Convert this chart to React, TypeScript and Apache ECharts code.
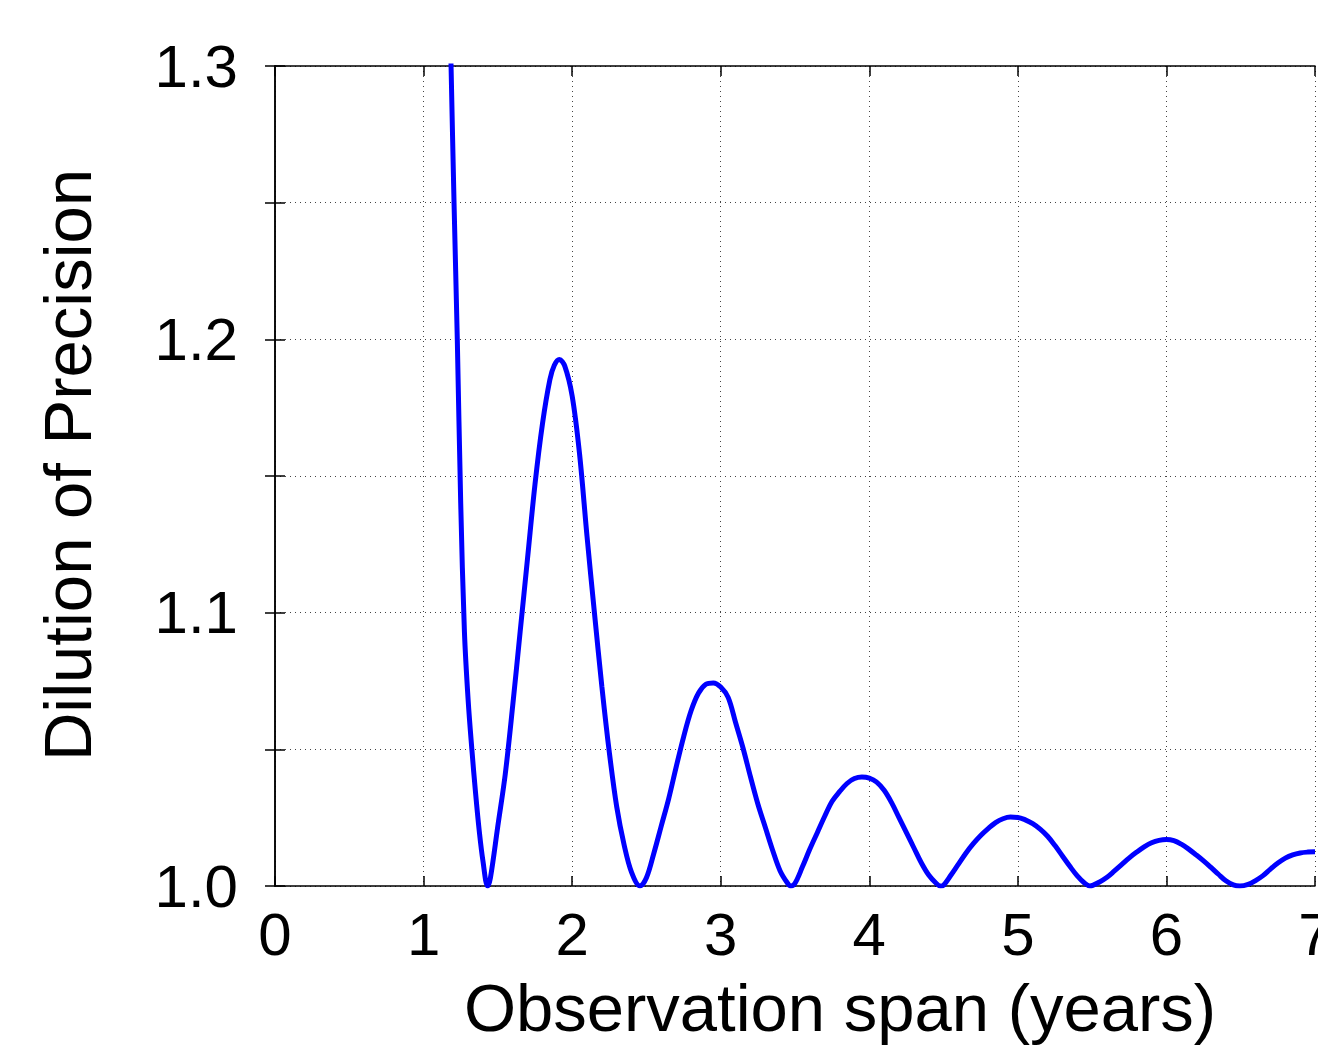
import React, { useEffect, useRef } from "react";
import * as echarts from "echarts";

// Observation span (years)
const spanYears: number[] = [
  1.17, 1.185, 1.205, 1.227, 1.25, 1.275, 1.3, 1.325, 1.35, 1.375, 1.4, 1.431,
  1.45, 1.5, 1.55, 1.6, 1.65, 1.7, 1.75, 1.8, 1.85, 1.88, 1.914, 1.95, 2.0, 2.05, 2.1, 2.15, 2.2, 2.25, 2.3, 2.35, 2.4, 2.457,
  2.5, 2.55, 2.6, 2.65, 2.7, 2.75, 2.8, 2.85, 2.9, 2.95, 3.0, 3.05, 3.1, 3.15, 3.2, 3.25, 3.3, 3.35, 3.4, 3.45, 3.471,
  3.5, 3.55, 3.6, 3.65, 3.7, 3.75, 3.8, 3.85, 3.9, 3.95, 4.0, 4.05, 4.1, 4.15, 4.2, 4.25, 4.3, 4.35, 4.4, 4.45, 4.478,
  4.5, 4.55, 4.6, 4.65, 4.7, 4.75, 4.8, 4.85, 4.9, 4.95, 5.0, 5.05, 5.1, 5.15, 5.2, 5.25, 5.3, 5.35, 5.4, 5.45, 5.485,
  5.55, 5.6, 5.65, 5.7, 5.75, 5.8, 5.85, 5.9, 5.95, 6.0, 6.05, 6.1, 6.15, 6.2, 6.25, 6.3, 6.35, 6.4, 6.45, 6.495,
  6.55, 6.6, 6.65, 6.7, 6.75, 6.8, 6.85, 6.9, 6.95, 7.0,
];

// Dilution of Precision
const dop: number[] = [
  1.34, 1.3, 1.25, 1.2, 1.14, 1.093, 1.068, 1.05, 1.034, 1.02, 1.009, 1.0,
  1.003, 1.022, 1.041, 1.066, 1.093, 1.12, 1.147, 1.169, 1.1852, 1.1905, 1.1926, 1.1903, 1.1793, 1.158, 1.128, 1.1, 1.073, 1.049, 1.029, 1.015, 1.005, 1.0,
  1.003, 1.012, 1.022, 1.032, 1.0435, 1.0545, 1.064, 1.0705, 1.0738, 1.0743, 1.0728, 1.069, 1.0598, 1.0505, 1.04, 1.03, 1.0215, 1.013, 1.0055, 1.001, 1.0,
  1.001, 1.007, 1.0135, 1.0195, 1.0255, 1.031, 1.0345, 1.0375, 1.0393, 1.0399, 1.0395, 1.038, 1.035, 1.0305, 1.025, 1.0195, 1.014, 1.0085, 1.004, 1.001, 1.0,
  1.0003, 1.004, 1.008, 1.012, 1.0155, 1.0185, 1.021, 1.0232, 1.0246, 1.0252, 1.0251, 1.0242, 1.0228, 1.0208, 1.0182, 1.0148, 1.011, 1.0072, 1.0037, 1.001, 1.0,
  1.0015, 1.0032, 1.0055, 1.0079, 1.0103, 1.0124, 1.0143, 1.0158, 1.0167, 1.017, 1.0166, 1.0153, 1.0135, 1.0114, 1.0092, 1.0068, 1.0043, 1.0019, 1.0004, 1.0,
  1.0006, 1.002, 1.0038, 1.0062, 1.0084, 1.0102, 1.0114, 1.0121, 1.0124, 1.0125,
];

const xTicks = [0, 1, 2, 3, 4, 5, 6, 7];
const yLabelled = [1.0, 1.1, 1.2, 1.3];

const FONT = "Liberation Sans, Arial, sans-serif";

export default function App() {
  const ref = useRef<HTMLDivElement>(null);
  useEffect(() => {
    document.body.style.margin = "0";
    const chart = echarts.init(ref.current!, null, { renderer: "svg" });
    const isLabelled = (v: number) =>
      yLabelled.some((l) => Math.abs(l - v) < 1e-6);
    const frameLine = { show: true, lineStyle: { color: "#000", width: 1.5 } };
    const frameTick = { show: true, inside: true, length: 10, lineStyle: { color: "#000", width: 1.5 } };
    const dotted = { show: true, lineStyle: { type: [1, 4] as any, color: "#444", width: 1 } };
    chart.setOption({
      animation: false,
      backgroundColor: "#fff",
      grid: { left: 275, top: 66, right: 3, bottom: 166, containLabel: false, outerBoundsMode: "none" },
      xAxis: [
        {
          type: "value",
          min: xTicks[0],
          max: xTicks[xTicks.length - 1],
          interval: 1,
          position: "bottom",
          name: "Observation span (years)",
          nameLocation: "middle",
          nameGap: 88,
          nameTextStyle: { fontFamily: FONT, fontSize: 67, color: "#000", padding: [0, 0, 0, 90] },
          axisLine: frameLine,
          axisTick: frameTick,
          axisLabel: { fontFamily: FONT, fontSize: 60, color: "#000", margin: 18, showMaxLabel: true, hideOverlap: false },
          splitLine: dotted,
        },
        {
          type: "value",
          min: 0,
          max: 7,
          interval: 1,
          position: "top",
          axisLine: frameLine,
          axisTick: frameTick,
          axisLabel: { show: false },
          splitLine: { show: false },
        },
      ],
      yAxis: [
        {
          type: "value",
          min: 1.0,
          max: 1.3,
          interval: 0.05,
          position: "left",
          name: "Dilution of Precision",
          nameLocation: "middle",
          nameGap: 174,
          nameRotate: 90,
          nameTextStyle: { fontFamily: FONT, fontSize: 67, color: "#000", padding: [0, 0, 0, 22] },
          axisLine: frameLine,
          axisTick: frameTick,
          axisLabel: {
            fontFamily: FONT,
            fontSize: 60,
            color: "#000",
            margin: 37,
            formatter: (v: number) => (isLabelled(v) ? v.toFixed(1) : ""),
          },
          splitLine: dotted,
        },
        {
          type: "value",
          min: 1.0,
          max: 1.3,
          interval: 0.05,
          position: "right",
          axisLine: frameLine,
          axisTick: frameTick,
          axisLabel: { show: false },
          splitLine: { show: false },
        },
      ],
      series: [
        {
          type: "line",
          xAxisIndex: 0,
          yAxisIndex: 0,
          data: spanYears.map((x, i) => [x, dop[i]]),
          showSymbol: false,
          smooth: 0.35,
          clip: true,
          lineStyle: { color: "#0000ff", width: 5 },
        },
      ],
    });
    return () => chart.dispose();
  }, []);
  return <div ref={ref} style={{ width: 1318, height: 1052 }} />;
}
